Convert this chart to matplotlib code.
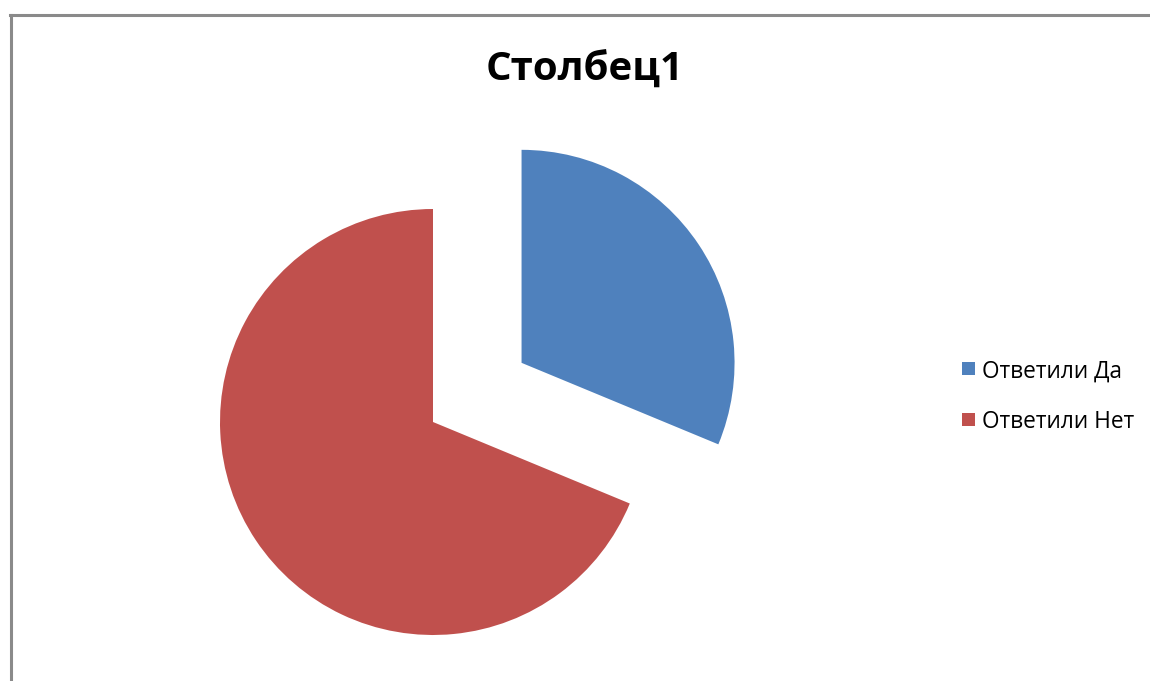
import matplotlib
matplotlib.use("Agg")
import matplotlib.pyplot as plt
from matplotlib.lines import Line2D
from matplotlib.patches import Rectangle

title = "Столбец1"
labels = ["Ответили Да", "Ответили Нет"]
values = [31.25, 68.75]
colors = ["#4F81BD", "#C0504D"]
explode_frac = [0.5, 0.0]

W, H = 1150, 681
fig = plt.figure(figsize=(W / 100, H / 100), dpi=100)
fig.patch.set_facecolor("white")

# chart border (top and left visible)
fig.add_artist(Line2D([10.5 / W, 10.5 / W], [0, 1 - 14.5 / H], transform=fig.transFigure,
                      color="#8a8a8a", lw=2.2))
fig.add_artist(Line2D([10 / W, 1], [1 - 14.5 / H, 1 - 14.5 / H], transform=fig.transFigure,
                      color="#8a8a8a", lw=2.2))

ax = fig.add_axes([0, 0, 1, 1])
ax.set_xlim(0, W)
ax.set_ylim(-H, 0)
ax.set_aspect("equal")
ax.axis("off")

R = 213
wedges, _ = ax.pie(values, colors=colors, explode=[f * R for f in explode_frac],
                   startangle=90, counterclock=False, radius=R, center=(433, -422),
                   wedgeprops=dict(linewidth=0))
ax.set_xlim(0, W)
ax.set_ylim(-H, 0)

fig.text(585 / W, 1 - 70 / H, title, ha="center", va="center",
         fontsize=29, fontweight="bold", family="Open Sans", color="black")

# legend
for i, (lab, col) in enumerate(zip(labels, colors)):
    yc = 369 + i * 50
    fig.add_artist(Rectangle((962 / W, 1 - (yc + 6.5) / H), 13 / W, 13 / H,
                             transform=fig.transFigure, facecolor=col, edgecolor="none"))
    fig.text(982 / W, 1 - yc / H, lab, ha="left", va="center_baseline",
             fontsize=16.3, family="Open Sans", color="black")

fig.savefig("out.png", dpi=100, facecolor="white")
